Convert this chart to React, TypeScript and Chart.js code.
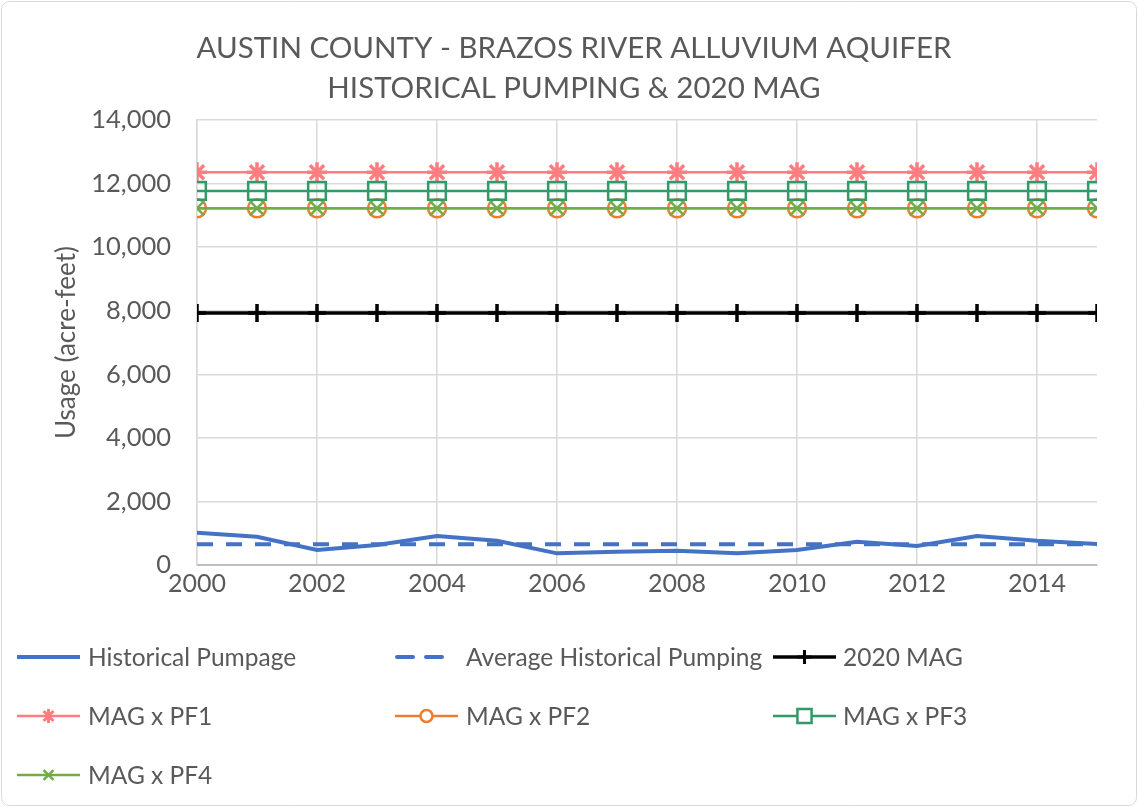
import React, { useEffect, useRef } from "react";
import { Chart, registerables } from "chart.js";

Chart.register(...registerables);

const titleLines = ["AUSTIN COUNTY - BRAZOS RIVER ALLUVIUM AQUIFER", "HISTORICAL PUMPING & 2020 MAG"];
const yAxisTitle = "Usage (acre-feet)";
const years = [2000, 2001, 2002, 2003, 2004, 2005, 2006, 2007, 2008, 2009, 2010, 2011, 2012, 2013, 2014, 2015];
const xTickYears = [2000, 2002, 2004, 2006, 2008, 2010, 2012, 2014];
const historicalPumpage = [1016, 890, 472, 629, 912, 765, 367, 419, 451, 367, 472, 734, 598, 912, 765, 660];
const averageHistoricalPumping = [650, 650, 650, 650, 650, 650, 650, 650, 650, 650, 650, 650, 650, 650, 650, 650];
const mag2020 = [7930, 7930, 7930, 7930, 7930, 7930, 7930, 7930, 7930, 7930, 7930, 7930, 7930, 7930, 7930, 7930];
const magPF1 = [12355, 12355, 12355, 12355, 12355, 12355, 12355, 12355, 12355, 12355, 12355, 12355, 12355, 12355, 12355, 12355];
const magPF2 = [11225, 11225, 11225, 11225, 11225, 11225, 11225, 11225, 11225, 11225, 11225, 11225, 11225, 11225, 11225, 11225];
const magPF3 = [11770, 11770, 11770, 11770, 11770, 11770, 11770, 11770, 11770, 11770, 11770, 11770, 11770, 11770, 11770, 11770];
const magPF4 = [11225, 11225, 11225, 11225, 11225, 11225, 11225, 11225, 11225, 11225, 11225, 11225, 11225, 11225, 11225, 11225];

const FONT = "Lato, 'Open Sans', sans-serif";
const TEXT = "#595959";

function toPoints(vals: number[]) {
  return years.map((y, i) => ({ x: y, y: vals[i] }));
}

function drawMarker(ctx: CanvasRenderingContext2D, style: string, x: number, y: number, r: number) {
  ctx.beginPath();
  if (style === "circle") {
    ctx.arc(x, y, r, 0, Math.PI * 2);
  } else if (style === "rect") {
    const s = Math.SQRT1_2 * r;
    ctx.rect(x - s, y - s, 2 * s, 2 * s);
  } else if (style === "cross") {
    ctx.moveTo(x, y - r); ctx.lineTo(x, y + r);
    ctx.moveTo(x - r, y); ctx.lineTo(x + r, y);
  } else if (style === "crossRot") {
    const d = Math.SQRT1_2 * r;
    ctx.moveTo(x - d, y - d); ctx.lineTo(x + d, y + d);
    ctx.moveTo(x - d, y + d); ctx.lineTo(x + d, y - d);
  } else if (style === "star") {
    const d = Math.SQRT1_2 * r;
    ctx.moveTo(x, y - r); ctx.lineTo(x, y + r);
    ctx.moveTo(x - d, y - d); ctx.lineTo(x + d, y + d);
    ctx.moveTo(x - d, y + d); ctx.lineTo(x + d, y - d);
  }
  if (style === "circle" || style === "rect") {
    ctx.fillStyle = "#ffffff";
    ctx.fill();
  }
  ctx.stroke();
}

const legendMarkerRadius: Record<string, number> = { cross: 7, star: 7, circle: 6, rect: 10, crossRot: 7 };

const gridLegend = {
  id: "gridLegend",
  beforeDraw(chart: any) {
    const ctx = chart.ctx as CanvasRenderingContext2D;
    ctx.save();
    ctx.fillStyle = "#ffffff";
    ctx.fillRect(0, 0, chart.width, chart.height);
    ctx.strokeStyle = "#d9d9d9";
    ctx.lineWidth = 1;
    ctx.beginPath();
    (ctx as any).roundRect(1.5, 1.5, chart.width - 3, chart.height - 3, 8);
    ctx.stroke();
    ctx.restore();
  },
  afterDraw(chart: any) {
    const ctx = chart.ctx as CanvasRenderingContext2D;
    const lineStarts = [17, 395, 773];
    const textStarts = [88, 466, 843];
    const rows = [657, 716, 775];
    const lineLen = 63;
    chart.data.datasets.forEach((ds: any, i: number) => {
      const col = i % 3;
      const row = Math.floor(i / 3);
      const x0 = lineStarts[col];
      const y = rows[row];
      ctx.save();
      ctx.strokeStyle = ds.borderColor;
      ctx.lineWidth = ds.borderWidth;
      ctx.setLineDash(ds.borderDash || []);
      ctx.lineCap = ds.borderDash ? "round" : "butt";
      ctx.beginPath();
      if (ds.borderDash) {
        ctx.moveTo(x0 + 2, y);
        ctx.lineTo(x0 + lineLen - 13, y);
      } else {
        ctx.moveTo(x0, y);
        ctx.lineTo(x0 + lineLen, y);
      }
      ctx.stroke();
      ctx.setLineDash([]);
      if (ds.pointRadius > 0) {
        ctx.lineWidth = Math.min(ds.pointBorderWidth || 2, 3);
        ctx.strokeStyle = ds.borderColor;
        drawMarker(ctx, ds.pointStyle, x0 + lineLen / 2, y, legendMarkerRadius[ds.pointStyle] || 6);
      }
      ctx.fillStyle = TEXT;
      ctx.font = `24.5px ${FONT}`;
      ctx.textBaseline = "middle";
      ctx.textAlign = "left";
      ctx.fillText(ds.label, textStarts[col], y + 1);
      ctx.restore();
    });
  },
};

export default function App() {
  const ref = useRef<HTMLCanvasElement>(null);
  useEffect(() => {
    document.body.style.margin = "0";
    const chart = new Chart(ref.current!, {
      type: "line",
      data: {
        datasets: [
          {
            label: "Historical Pumpage",
            data: toPoints(historicalPumpage),
            borderColor: "#4472c4",
            borderWidth: 4,
            pointRadius: 0,
            order: 7,
          },
          {
            label: "Average Historical Pumping",
            data: toPoints(averageHistoricalPumping),
            borderColor: "#4472c4",
            borderWidth: 4,
            borderDash: [16, 13],
            pointRadius: 0,
            order: 6,
          },
          {
            label: "2020 MAG",
            data: toPoints(mag2020),
            borderColor: "#000000",
            borderWidth: 3.5,
            pointStyle: "cross",
            pointRadius: 9,
            pointBorderWidth: 3.5,
            pointBorderColor: "#000000",
            order: 5,
          },
          {
            label: "MAG x PF1",
            data: toPoints(magPF1),
            borderColor: "#ff7c80",
            borderWidth: 2.5,
            pointStyle: "star",
            pointRadius: 10,
            pointBorderWidth: 3.5,
            pointBorderColor: "#ff7c80",
            order: 4,
          },
          {
            label: "MAG x PF2",
            data: toPoints(magPF2),
            borderColor: "#ed7d31",
            borderWidth: 2.5,
            pointStyle: "circle",
            pointRadius: 9,
            pointBorderWidth: 2.5,
            pointBorderColor: "#ed7d31",
            pointBackgroundColor: "rgba(255,255,255,0)",
            order: 3,
          },
          {
            label: "MAG x PF3",
            data: toPoints(magPF3),
            borderColor: "#339966",
            borderWidth: 2.5,
            pointStyle: "rect",
            pointRadius: 12.5,
            pointBorderWidth: 2.5,
            pointBorderColor: "#339966",
            pointBackgroundColor: "rgba(255,255,255,0)",
            order: 2,
          },
          {
            label: "MAG x PF4",
            data: toPoints(magPF4),
            borderColor: "#70ad47",
            borderWidth: 2.5,
            pointStyle: "crossRot",
            pointRadius: 10,
            pointBorderWidth: 2.5,
            pointBorderColor: "#70ad47",
            order: 1,
          },
        ] as any,
      },
      options: {
        animation: false,
        responsive: false,
        layout: { padding: { left: 51, right: 41, top: 0, bottom: 200 } },
        plugins: {
          legend: { display: false },
          tooltip: { enabled: false },
          title: {
            display: true,
            text: titleLines,
            color: TEXT,
            font: { family: FONT, size: 29.5, weight: "normal", lineHeight: 1.356 },
            padding: { top: 28, bottom: 12 },
          },
        },
        scales: {
          x: {
            type: "linear",
            min: 2000,
            max: 2015,
            afterBuildTicks: (scale: any) => {
              scale.ticks = xTickYears.map((v) => ({ value: v }));
            },
            afterFit: (scale: any) => {
              scale.height = 42;
            },
            ticks: {
              color: TEXT,
              font: { family: FONT, size: 25 },
              padding: 4,
              maxRotation: 0,
              callback: (v: any) => String(v),
            },
            grid: { color: "#d9d9d9", lineWidth: 1.5, drawTicks: false },
            border: { color: "#bfbfbf", width: 2 },
          },
          y: {
            min: 0,
            max: 14000,
            afterFit: (scale: any) => {
              scale.width = 146;
            },
            ticks: {
              stepSize: 2000,
              color: TEXT,
              font: { family: FONT, size: 25.5 },
              padding: 26,
              callback: (v: any) => Number(v).toLocaleString("en-US"),
            },
            title: {
              display: true,
              text: yAxisTitle,
              color: TEXT,
              font: { family: FONT, size: 26 },
              padding: { top: 0, bottom: 0 },
            },
            grid: { color: "#d9d9d9", lineWidth: 1.5, drawTicks: false },
            border: { color: "#d9d9d9", width: 1.5 },
          },
        },
      } as any,
      plugins: [gridLegend],
    });
    return () => chart.destroy();
  }, []);
  return <canvas ref={ref} width={1138} height={807} style={{ display: "block" }} />;
}
